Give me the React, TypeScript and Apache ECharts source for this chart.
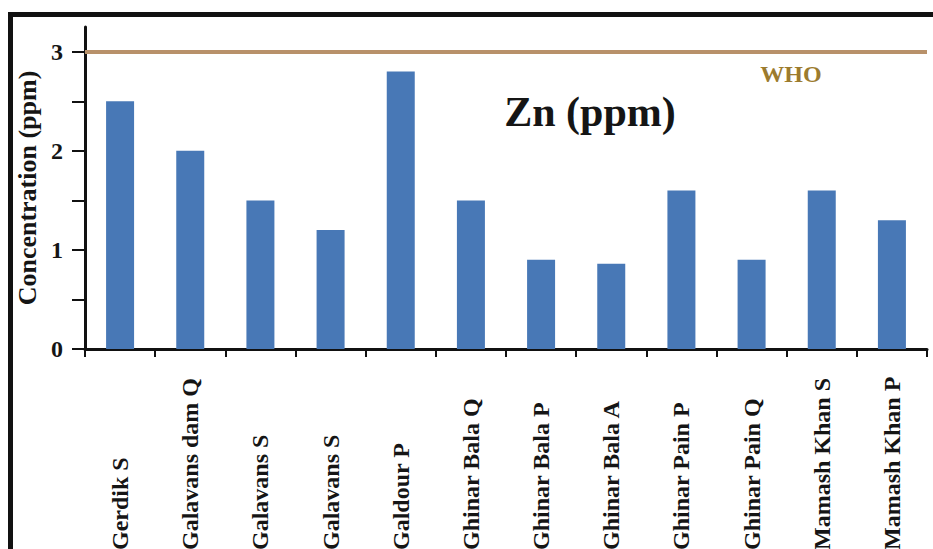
import React, { useEffect, useRef } from "react";
import * as echarts from "echarts";

const categories = [
  "Gerdik S",
  "Galavans dam Q",
  "Galavans S",
  "Galavans S",
  "Galdour P",
  "Ghinar Bala Q",
  "Ghinar Bala P",
  "Ghinar Bala A",
  "Ghinar Pain P",
  "Ghinar Pain Q",
  "Mamash Khan S",
  "Mamash Khan P",
];
const znValues = [2.5, 2.0, 1.5, 1.2, 2.8, 1.5, 0.9, 0.86, 1.6, 0.9, 1.6, 1.3];
const whoLimit = 3;
const yTickValues = [0, 0.5, 1, 1.5, 2, 2.5, 3];
const yLabelValues = [0, 1, 2, 3];

const FONT = "'Liberation Serif', 'Times New Roman', serif";

export default function App() {
  const ref = useRef<HTMLDivElement>(null);
  useEffect(() => {
    if (!ref.current) return;
    const chart = echarts.init(ref.current, undefined, { renderer: "svg" });
    chart.setOption({
      animation: false,
      backgroundColor: "#ffffff",
      grid: {
        left: 85,
        right: 6,
        top: 27,
        bottom: 200,
        containLabel: false,
        outerBoundsMode: "none",
      },
      graphic: [
        { type: "rect", shape: { x: 8, y: 12, width: 925, height: 5 }, style: { fill: "#111" }, z: 100 },
        { type: "rect", shape: { x: 8, y: 12, width: 5, height: 537 }, style: { fill: "#111" }, z: 100 },
        {
          type: "text",
          x: 590,
          y: 112,
          style: {
            text: "Zn (ppm)",
            font: `bold 42px ${FONT}`,
            fill: "#151515",
            align: "center",
            verticalAlign: "middle",
          },
        },
        {
          type: "text",
          x: 791,
          y: 74,
          style: {
            text: "WHO",
            font: `bold 24px ${FONT}`,
            fill: "#9c7b2e",
            align: "center",
            verticalAlign: "middle",
          },
        },
      ],
      xAxis: {
        type: "category",
        data: categories,
        boundaryGap: true,
        axisLine: { show: true, lineStyle: { color: "#111", width: 3 } },
        axisTick: { show: true, length: 8, lineStyle: { color: "#111", width: 2 } },
        axisLabel: {
          interval: 0,
          rotate: 90,
          align: "left",
          verticalAlign: "middle",
          margin: 201,
          fontFamily: FONT,
          fontWeight: "bold",
          fontSize: 24,
          color: "#151515",
        },
        splitLine: { show: false },
      },
      yAxis: {
        type: "value",
        min: 0,
        max: 3.25,
        name: "Concentration (ppm)",
        nameLocation: "middle",
        nameRotate: 90,
        nameGap: 45,
        nameTextStyle: { fontFamily: FONT, fontWeight: "bold", fontSize: 26, color: "#151515" },
        axisLine: { show: true, lineStyle: { color: "#111", width: 3 } },
        axisTick: {
          show: true,
          length: 13,
          customValues: yTickValues,
          lineStyle: { color: "#111", width: 2 },
        },
        axisLabel: {
          customValues: yLabelValues,
          margin: 22,
          fontFamily: FONT,
          fontWeight: "bold",
          fontSize: 24,
          color: "#151515",
        },
        splitLine: { show: false },
      },
      series: [
        {
          type: "bar",
          data: znValues,
          barWidth: 28,
          itemStyle: { color: "#4878b6" },
          markLine: {
            silent: true,
            symbol: "none",
            label: { show: false },
            lineStyle: { color: "#b8916a", width: 4, type: "solid" },
            data: [{ yAxis: whoLimit }],
          },
        },
      ],
    });
    return () => chart.dispose();
  }, []);
  return (
    <div
      ref={ref}
      style={{ position: "fixed", left: 0, top: 0, width: 933, height: 549 }}
    />
  );
}
